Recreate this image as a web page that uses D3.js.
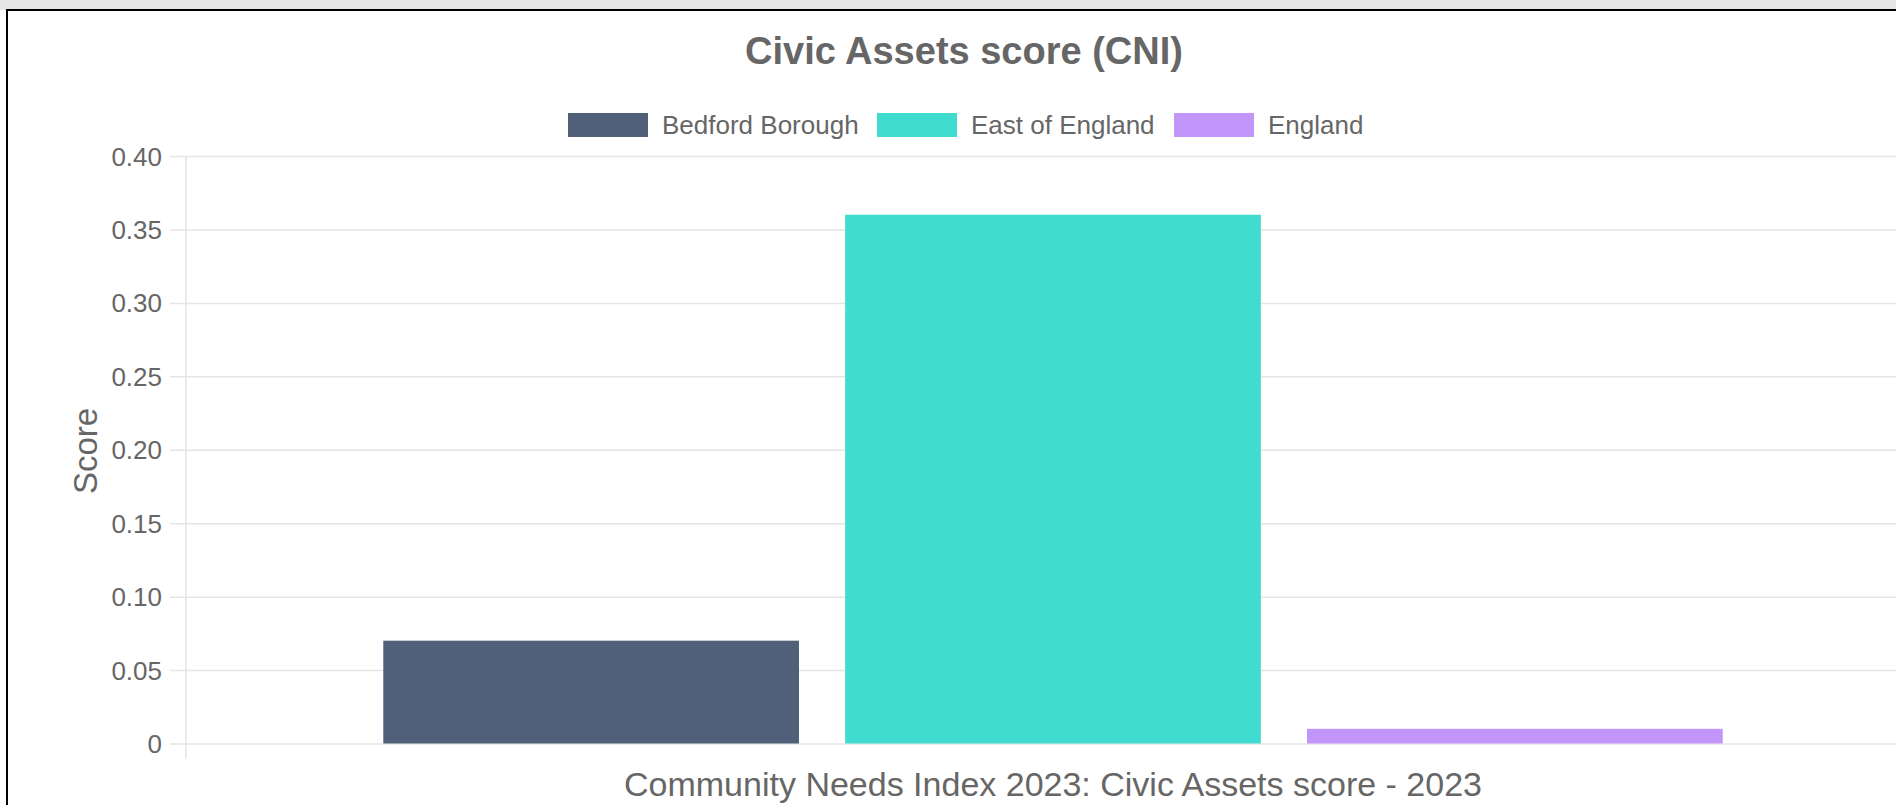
<!DOCTYPE html>
<html>
<head>
<meta charset="utf-8">
<script src="https://cdn.jsdelivr.net/npm/d3@7"></script>
<style>
  html, body { margin: 0; padding: 0; background: #fff; overflow: hidden; }
  svg { display: block; font-family: "Liberation Sans", Arial, Helvetica, sans-serif; }
</style>
</head>
<body>
<svg id="chart" width="1896" height="805"></svg>
<script>
const categories = ["Community Needs Index 2023: Civic Assets score - 2023"];
const seriesNames = ["Bedford Borough", "East of England", "England"];
const seriesValues = [0.07, 0.36, 0.01];
const seriesColors = ["#506079", "#40dcd0", "#c195fa"];
const yTicks = [0, 0.05, 0.10, 0.15, 0.20, 0.25, 0.30, 0.35, 0.40];
const yTickLabels = ["0", "0.05", "0.10", "0.15", "0.20", "0.25", "0.30", "0.35", "0.40"];
const chartTitle = "Civic Assets score (CNI)";
const yAxisTitle = "Score";

const svg = d3.select("#chart");
const W = 1896, H = 805;
const textCol = "#666666";
const gridCol = "#e5e5e5";

// page chrome: grey strip and container border
svg.append("rect").attr("x", 0).attr("y", 0).attr("width", W).attr("height", 10).attr("fill", "#e6e6e6");
svg.append("line").attr("x1", 6).attr("x2", W).attr("y1", 10).attr("y2", 10).attr("stroke", "#000").attr("stroke-width", 2);
svg.append("line").attr("x1", 7).attr("x2", 7).attr("y1", 9).attr("y2", H).attr("stroke", "#000").attr("stroke-width", 2);

const plot = { left: 187, right: 1919, top: 156, bottom: 743.5 };

const y = d3.scaleLinear().domain([0, 0.4]).range([plot.bottom, plot.top]);
const x0 = d3.scaleBand().domain(categories).range([plot.left, plot.right]).paddingInner(0.2).paddingOuter(0.1);
const x1 = d3.scaleBand().domain(seriesNames).range([0, x0.bandwidth()]).paddingInner(0.1).paddingOuter(0.05);

// gridlines + y axis
const yAxis = d3.axisLeft(y).tickValues(yTicks)
  .tickFormat((d, i) => yTickLabels[i])
  .tickSize(-(plot.right - plot.left + 17)).tickPadding(8);
const gy = svg.append("g").attr("transform", `translate(${plot.left - 17},0)`);
gy.call(yAxis);
gy.select(".domain").remove();
gy.selectAll(".tick line").attr("stroke", gridCol).attr("stroke-width", 1.5).attr("x1", 0).attr("x2", plot.right);
gy.selectAll(".tick text").attr("fill", textCol).attr("font-size", 26)
  .attr("x", -8).attr("dy", "0.35em");

// vertical axis line (category edge)
svg.append("line").attr("x1", plot.left - 1).attr("x2", plot.left - 1)
  .attr("y1", plot.top).attr("y2", plot.bottom + 15).attr("stroke", gridCol).attr("stroke-width", 1.5);

// bars
const grp = svg.append("g").selectAll("g").data(categories).join("g")
  .attr("transform", d => `translate(${x0(d)},0)`);
grp.selectAll("rect").data(seriesNames.map((s, i) => ({ s, v: seriesValues[i], c: seriesColors[i] })))
  .join("rect")
  .attr("x", d => x1(d.s))
  .attr("width", x1.bandwidth())
  .attr("y", d => y(d.v))
  .attr("height", d => y(0) - y(d.v))
  .attr("fill", d => d.c);

// x category label
svg.append("text").attr("x", x0(categories[0]) + x0.bandwidth() / 2).attr("y", 784)
  .attr("text-anchor", "middle").attr("dominant-baseline", "central")
  .attr("fill", textCol).attr("font-size", 34).text(categories[0]);

// y axis title
svg.append("text").attr("transform", "translate(85,451) rotate(-90)")
  .attr("text-anchor", "middle").attr("dominant-baseline", "central")
  .attr("fill", textCol).attr("font-size", 33).text(yAxisTitle);

// chart title
svg.append("text").attr("x", 964).attr("y", 51).attr("text-anchor", "middle")
  .attr("dominant-baseline", "central").attr("fill", textCol)
  .attr("font-size", 38).attr("font-weight", "bold").text(chartTitle);

// legend
const legendX = [568, 877, 1174];
const lg = svg.append("g").selectAll("g").data(seriesNames).join("g")
  .attr("transform", (d, i) => `translate(${legendX[i]},113)`);
lg.append("rect").attr("width", 80).attr("height", 24)
  .attr("fill", (d, i) => seriesColors[i]);
lg.append("text").attr("x", 94).attr("y", 12).attr("dominant-baseline", "central")
  .attr("fill", textCol).attr("font-size", 26).text(d => d);
</script>
</body>
</html>
